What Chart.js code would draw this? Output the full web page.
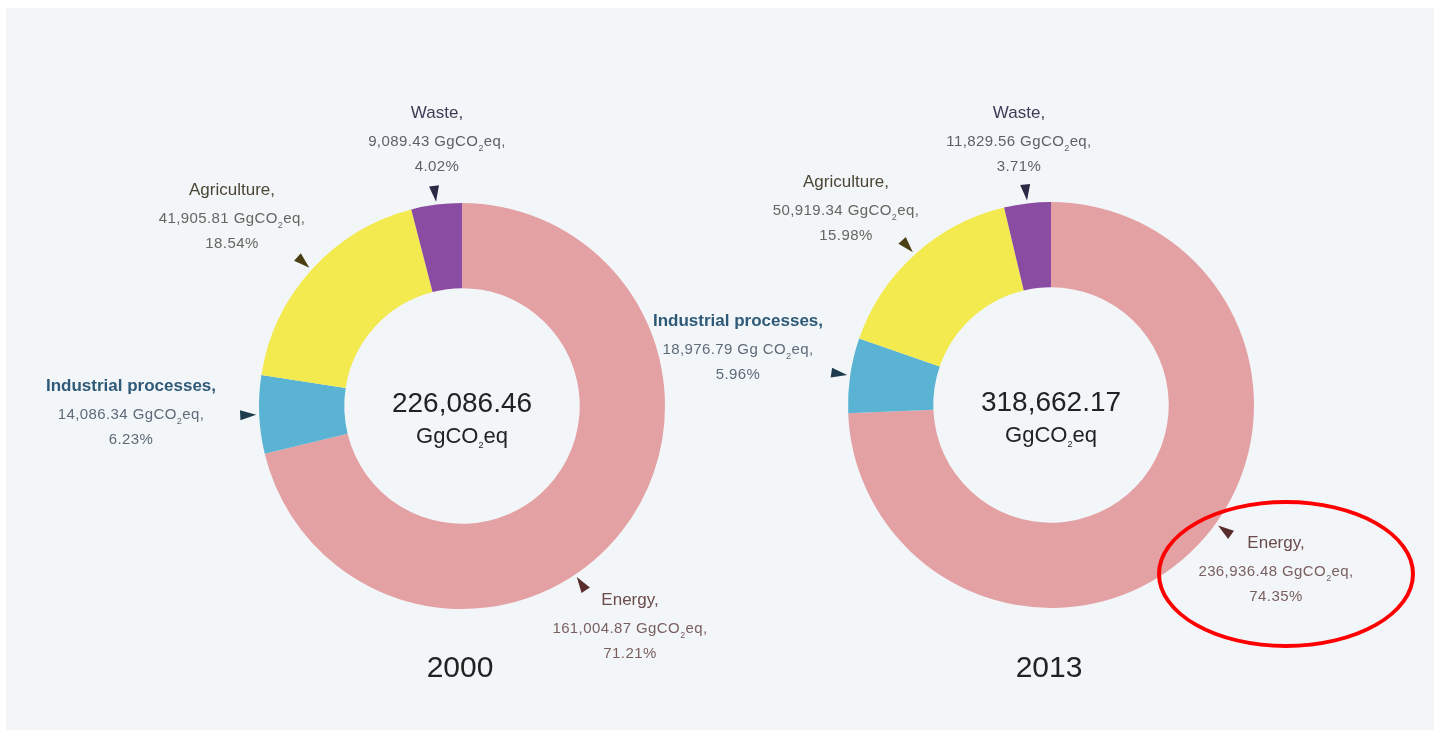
<!DOCTYPE html>
<html>
<head>
<meta charset="utf-8">
<script src="https://cdn.jsdelivr.net/npm/chart.js@4.4.1/dist/chart.umd.min.js"></script>
<style>
  html, body { margin: 0; padding: 0; background: #ffffff; }
  body { width: 1434px; height: 736px; position: relative; overflow: hidden; font-family: "Liberation Sans", Arial, sans-serif; }
  #panel { position: absolute; left: 6px; top: 8px; width: 1428px; height: 722px; background: #f3f6f9; }
  .wrap { position: absolute; width: 526px; height: 526px; }
  .lbl { position: absolute; transform: translateX(-50%); text-align: center; white-space: nowrap; }
  .lbl .t { font-size: 17px; line-height: 30px; }
  .lbl .v { font-size: 15px; line-height: 25px; letter-spacing: 0.4px; }
  .lbl sub, .mid sub { font-size: 9px; vertical-align: -5px; line-height: 0; }
  .mid { position: absolute; transform: translate(-50%, -50%); text-align: center; color: #222; white-space: nowrap; }
  .mid .n { font-size: 28px; line-height: 36px; }
  .mid .u { font-size: 22px; line-height: 30px; }
  .year { position: absolute; transform: translate(-50%, -50%); font-size: 30px; color: #222; }
  #ring { position: absolute; left: 1157px; top: 500px; width: 250px; height: 140px; border: 4px solid #ff0000; border-radius: 50%; }
</style>
</head>
<body>
<div id="panel"></div>
<div class="wrap" id="w0" style="left:199px; top:143px;"><canvas id="c0"></canvas></div>
<div class="wrap" id="w1" style="left:788px; top:142px;"><canvas id="c1"></canvas></div>
<div id="ring"></div>
<script>
// data
const categories = ['Energy', 'Industrial processes', 'Agriculture', 'Waste'];
const years = ['2000', '2013'];
const totals = [226086.46, 318662.17];
const values2000 = [161004.87, 14086.34, 41905.81, 9089.43];
const values2013 = [236936.48, 18976.79, 50919.34, 11829.56];
const shares2000 = [71.21, 6.23, 18.54, 4.02];
const shares2013 = [74.35, 5.96, 15.98, 3.71];
const units2013 = ['GgCO<sub>2</sub>eq', 'Gg CO<sub>2</sub>eq', 'GgCO<sub>2</sub>eq', 'GgCO<sub>2</sub>eq'];

const sliceColors = ['#e3a1a4', '#5ab3d3', '#f2ea4e', '#8a4ca3'];
const arrowColors = ['#5a2c2e', '#1e3c4e', '#4a3f12', '#2c2846'];
const titleColors = ['#6b4a4a', '#2e5a78', '#4b4636', '#3d3b55'];
const valueColors = ['#7a5f5f', '#5d6b78', '#666660', '#5f5f6a'];

const fmt = v => v.toLocaleString('en-US', { minimumFractionDigits: 2, maximumFractionDigits: 2 });

// arrow markers just outside the ring
const arrowPlugin = {
  id: 'arrows',
  afterDatasetsDraw(chart, args, opts) {
    const ctx = chart.ctx;
    const arcs = chart.getDatasetMeta(0).data;
    arcs.forEach((arc, i) => {
      const a = arc.startAngle + opts.fractions[i] * (arc.endAngle - arc.startAngle);
      const r0 = arc.outerRadius + 3, r1 = arc.outerRadius + 19;
      const cos = Math.cos(a), sin = Math.sin(a);
      const bx = arc.x + r1 * cos, by = arc.y + r1 * sin;
      ctx.save();
      ctx.fillStyle = arrowColors[i];
      ctx.beginPath();
      ctx.moveTo(arc.x + r0 * cos, arc.y + r0 * sin);
      ctx.lineTo(bx - 5 * sin, by + 5 * cos);
      ctx.lineTo(bx + 5 * sin, by - 5 * cos);
      ctx.closePath();
      ctx.fill();
      ctx.restore();
    });
  }
};

function makeDonut(id, values, fractions) {
  return new Chart(document.getElementById(id), {
    type: 'doughnut',
    data: {
      labels: categories,
      datasets: [{
        data: values,
        backgroundColor: sliceColors,
        borderWidth: 0,
        hoverOffset: 0
      }]
    },
    options: {
      responsive: true,
      maintainAspectRatio: false,
      animation: false,
      cutout: '58%',
      layout: { padding: 60 },
      events: [],
      plugins: {
        legend: { display: false },
        tooltip: { enabled: false },
        arrows: { fractions: fractions }
      }
    },
    plugins: [arrowPlugin]
  });
}

makeDonut('c0', values2000, [0.57, 0.5, 0.5, 0.5]);
makeDonut('c1', values2013, [0.47, 0.5, 0.5, 0.5]);

// label placement (label block centre x, top y)
const labelPos = [
  [[630, 585], [131, 371], [232, 175], [437, 98]],
  [[1276, 528], [738, 306], [846, 167], [1019, 98]]
];
const sets = [
  { values: values2000, shares: shares2000, units: categories.map(() => 'GgCO<sub>2</sub>eq') },
  { values: values2013, shares: shares2013, units: units2013 }
];

sets.forEach((s, k) => {
  categories.forEach((cat, i) => {
    const d = document.createElement('div');
    d.className = 'lbl';
    d.style.left = labelPos[k][i][0] + 'px';
    d.style.top = labelPos[k][i][1] + 'px';
    const bold = i === 1 ? 'font-weight:bold;' : '';
    d.innerHTML =
      '<div class="t" style="color:' + titleColors[i] + ';' + bold + '">' + cat + ',</div>' +
      '<div class="v" style="color:' + valueColors[i] + '">' + fmt(s.values[i]) + ' ' + s.units[i] + ',</div>' +
      '<div class="v" style="color:' + valueColors[i] + '">' + s.shares[i].toFixed(2) + '%</div>';
    document.body.appendChild(d);
  });
});

const centres = [[462, 406], [1051, 405]];
totals.forEach((t, k) => {
  const m = document.createElement('div');
  m.className = 'mid';
  m.style.left = centres[k][0] + 'px';
  m.style.top = (centres[k][1] + 12) + 'px';
  m.innerHTML = '<div class="n">' + fmt(t) + '</div><div class="u">GgCO<sub>2</sub>eq</div>';
  document.body.appendChild(m);

  const y = document.createElement('div');
  y.className = 'year';
  y.style.left = (centres[k][0] - 2) + 'px';
  y.style.top = '667px';
  y.textContent = years[k];
  document.body.appendChild(y);
});
</script>
</body>
</html>
